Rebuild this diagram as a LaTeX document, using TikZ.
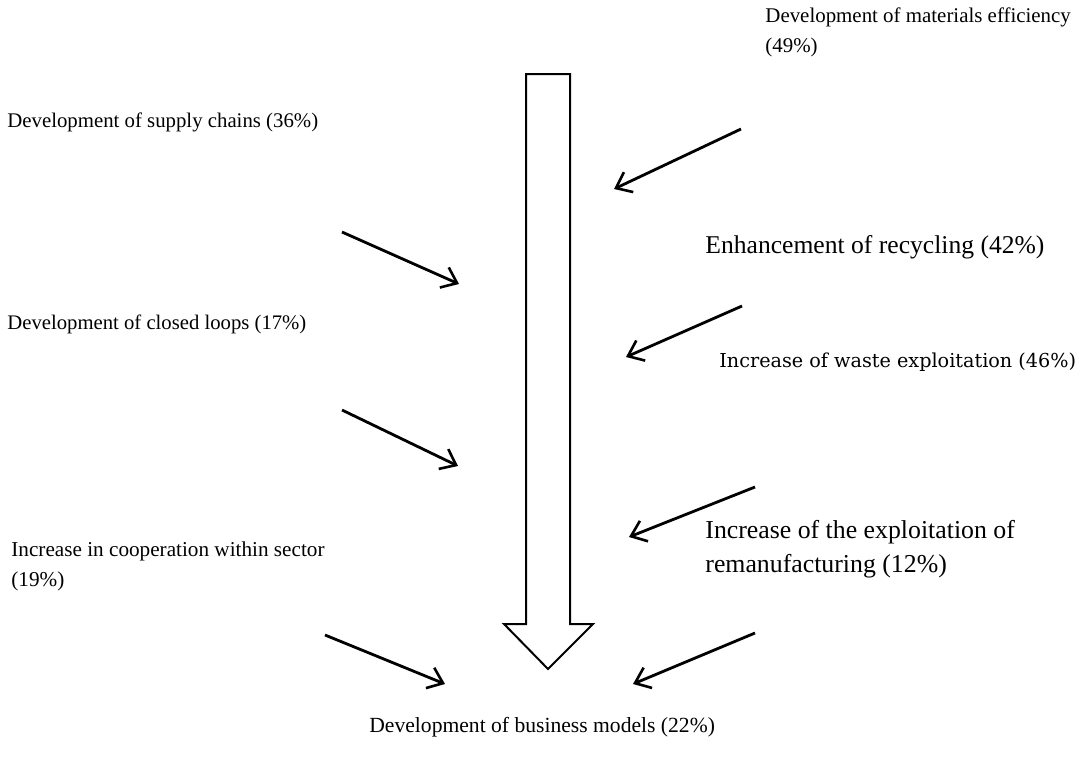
\documentclass[tikz,border=0pt]{standalone}
\usepackage{fontspec}
\setmainfont{Liberation Serif}
\newfontfamily\altserif{DejaVu Serif}
\usetikzlibrary{arrows.meta}
\begin{document}
\begin{tikzpicture}[x=0.5pt,y=-0.5pt,
  lbl/.style={inner sep=0pt,anchor=base west,align=left,font=\fontsize{10.6}{15}\selectfont},
  lblsize/.style={lbl,font=\fontsize{#1}{15}\selectfont},
  lblbig/.style={lbl,font=\fontsize{12.9}{17}\selectfont},
  feed/.style={line width=1.4pt,-{Straight Barb[length=7pt,width=11pt,line width=1.3pt]}},
  bigarrow/.style={draw,line width=1pt,fill=white,line join=miter}]
\useasboundingbox (0,0) rectangle (1081,767);

% central downward arrow
\draw[bigarrow] (526,74) -- (570,74) -- (570,624) -- (593,624) -- (548,669)
  -- (504,624) -- (526,624) -- cycle;

% labels (anchored at the baseline of their last line)
\node[lblsize=10.45] (mat) at (765,52) {Development of materials efficiency\\(49\%)};
\node[lblsize=10.4] (sup) at (7,127) {Development of supply chains (36\%)};
\node[lblbig,font=\fontsize{12.8}{17}\selectfont] (rec) at (705,253) {Enhancement of recycling (42\%)};
\node[lblsize=10.35] (clo) at (7,329) {Development of closed loops (17\%)};
\node[lbl,font=\altserif\fontsize{9.6}{15}\selectfont] (was) at (719,367) {Increase of waste exploitation (46\%)};
\node[lblbig] (rem) at (705,572) {Increase of the exploitation of\\remanufacturing (12\%)};
\node[lbl] (coo) at (11,586) {Increase in cooperation within sector\\(19\%)};
\node[lblsize=10.8] (bus) at (369,732) {Development of business models (22\%)};

% arrow end points
\coordinate (a1s) at (741,129); \coordinate (a1e) at (614,189);
\coordinate (b1s) at (342,232); \coordinate (b1e) at (459,284);
\coordinate (a2s) at (742,306); \coordinate (a2e) at (626,357);
\coordinate (b2s) at (342,410); \coordinate (b2e) at (458,466);
\coordinate (a3s) at (755,487); \coordinate (a3e) at (629,537);
\coordinate (b3s) at (325,635); \coordinate (b3e) at (445,684);
\coordinate (a4s) at (755,633); \coordinate (a4e) at (633,684);

\draw[feed] (a1s) -- (a1e);
\draw[feed] (b1s) -- (b1e);
\draw[feed] (a2s) -- (a2e);
\draw[feed] (b2s) -- (b2e);
\draw[feed] (a3s) -- (a3e);
\draw[feed] (b3s) -- (b3e);
\draw[feed] (a4s) -- (a4e);
\end{tikzpicture}
\end{document}
